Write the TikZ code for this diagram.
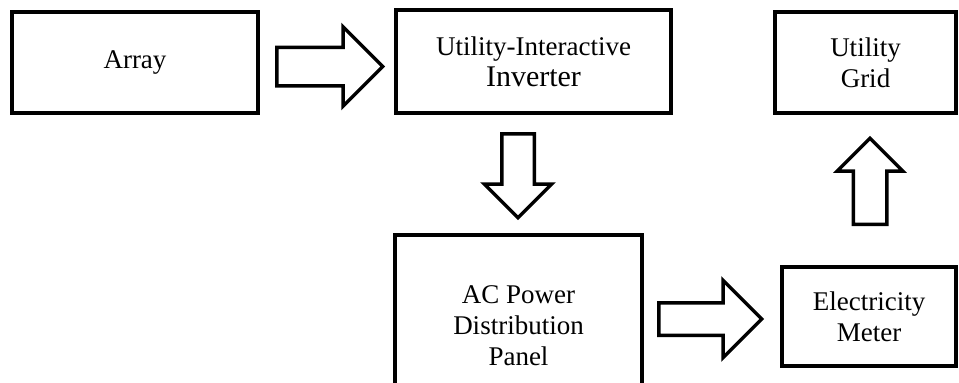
\documentclass[tikz,border=0pt]{standalone}
\usepackage{fontspec}
\setmainfont{Liberation Serif}
\usetikzlibrary{shapes.arrows}

\tikzset{
  block/.style={draw, line width=4pt, align=center, inner sep=0pt,
    font=\fontsize{27}{31}\selectfont},
  fatarrow/.style n args={3}{draw, single arrow, line width=3.5pt,
    single arrow tip angle=90, single arrow head extend=#3,
    inner xsep=0pt, inner ysep=#2, minimum height=#1, minimum width=0pt,
    anchor=tail},
}

\begin{document}
\begin{tikzpicture}[x=1pt, y=-1pt]
  \useasboundingbox (0,0) rectangle (959,383);
  \clip (0,0) rectangle (959,383);
  % boxes
  \node[block, minimum width=246pt, minimum height=101pt] (array) at (135,62.5) {Array};
  \node[block, minimum width=275pt, minimum height=103pt] (inverter) at (533.5,61.5)
    {Utility-Interactive\\{\fontsize{30}{35}\selectfont Inverter}};
  \node[block, minimum width=181pt, minimum height=101pt] (grid) at (865.5,62.5) {Utility\\Grid};
  \node[block, minimum width=247pt, minimum height=182pt] (panel) at (518.5,326)
    {AC Power\\Distribution\\Panel};
  \node[block, minimum width=174pt, minimum height=99pt] (meter) at (869,316.5) {Electricity\\Meter};
  % block arrows
  \node[fatarrow={106pt}{17.5pt}{20.5pt}] (array-inv) at (275,66.5) {};
  \node[fatarrow={84pt}{14.5pt}{17.5pt}, rotate=-90] (inv-panel) at (518,132) {};
  \node[fatarrow={103pt}{14.5pt}{22.5pt}] (panel-meter) at (657,319) {};
  \node[fatarrow={86pt}{15pt}{16pt}, rotate=90] (meter-grid) at (870,226) {};
\end{tikzpicture}
\end{document}
